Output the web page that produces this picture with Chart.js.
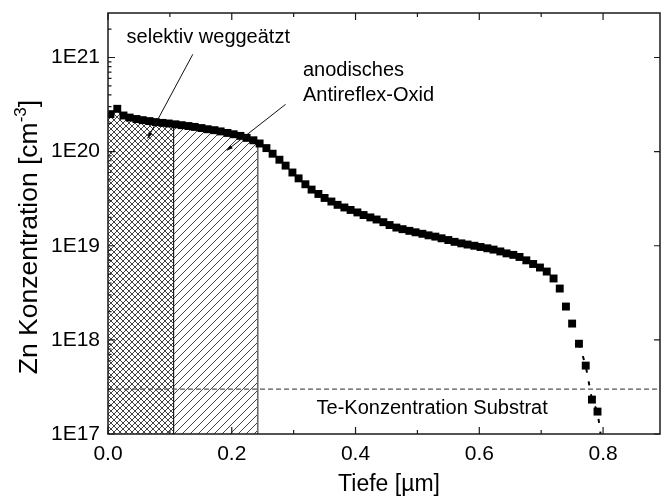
<!DOCTYPE html>
<html>
<head>
<meta charset="utf-8">
<script src="https://cdn.jsdelivr.net/npm/chart.js@4.4.1/dist/chart.umd.min.js"></script>
<style>
  html, body { margin: 0; padding: 0; background: #fff; overflow: hidden; }
  canvas { display: block; }
</style>
</head>
<body>
<canvas id="c" width="661" height="497"></canvas>
<script>
const FONT = "'Liberation Sans', Arial, Helvetica, sans-serif";

// SIMS depth profile: depth [µm] and Zn concentration [cm^-3]
const depth = [
  0.004, 0.015, 0.025, 0.035, 0.046, 0.056, 0.067, 0.077, 0.088, 0.098,
  0.109, 0.119, 0.130, 0.140, 0.151, 0.161, 0.172, 0.182, 0.193, 0.203,
  0.214, 0.224, 0.235, 0.245, 0.256, 0.266, 0.277, 0.287, 0.298, 0.308,
  0.319, 0.329, 0.340, 0.350, 0.361, 0.371, 0.382, 0.392, 0.403, 0.413,
  0.424, 0.434, 0.445, 0.455, 0.466, 0.476, 0.487, 0.497, 0.508, 0.518,
  0.529, 0.539, 0.550, 0.560, 0.571, 0.581, 0.592, 0.602, 0.613, 0.623,
  0.634, 0.644, 0.655, 0.665, 0.676, 0.687, 0.698, 0.709, 0.720, 0.730,
  0.740, 0.750, 0.761, 0.772, 0.782, 0.791
];
const znConc = [
  2.50e20, 2.85e20, 2.42e20, 2.30e20, 2.22e20, 2.16e20, 2.11e20, 2.06e20, 2.02e20, 1.99e20,
  1.95e20, 1.91e20, 1.87e20, 1.83e20, 1.78e20, 1.73e20, 1.69e20, 1.64e20, 1.58e20, 1.53e20,
  1.47e20, 1.40e20, 1.32e20, 1.22e20, 1.09e20, 9.5e19, 8.2e19, 7.1e19, 6.0e19, 5.2e19,
  4.5e19, 3.95e19, 3.55e19, 3.22e19, 2.95e19, 2.72e19, 2.55e19, 2.40e19, 2.26e19, 2.12e19,
  2.00e19, 1.90e19, 1.78e19, 1.66e19, 1.56e19, 1.50e19, 1.44e19, 1.39e19, 1.34e19, 1.29e19,
  1.25e19, 1.20e19, 1.15e19, 1.10e19, 1.06e19, 1.03e19, 1.00e19, 9.7e18, 9.4e18, 9.1e18,
  8.7e18, 8.3e18, 8.0e18, 7.6e18, 7.0e18, 6.4e18, 5.87e18, 5.32e18, 4.49e18, 3.51e18,
  2.26e18, 1.49e18, 9.1e17, 5.33e17, 2.32e17, 1.73e17
];

// dashed fit through the steep tail of the profile
const fitDepth = [0.761, 0.772, 0.782, 0.791, 0.796];
const fitConc  = [9.1e17, 5.33e17, 2.32e17, 1.73e17, 1.0e17];

// Te background level of the substrate
const teLevel = 3e17;

// layer boundaries: etched layer and anodic oxide
const layerBounds   = [0, 0.106, 0.242];
const layerEdgeConc = [2.50e20, 1.95e20, 1.22e20];

// axis ranges and tick labels
const X_MIN = 0, X_MAX = 0.892;
const Y_MIN = 1e17, Y_MAX = 2.97e21;
const xTickValues = [0, 0.2, 0.4, 0.6, 0.8];
const xTickLabels = ['0.0', '0.2', '0.4', '0.6', '0.8'];
const xMinorValues = [0.1, 0.3, 0.5, 0.7];
const yTickValues = [1e17, 1e18, 1e19, 1e20, 1e21];
const yTickLabels = ['1E17', '1E18', '1E19', '1E20', '1E21'];

const canvas = document.getElementById('c');
const ctx = canvas.getContext('2d');

function makePattern(size, draw) {
  const c = document.createElement('canvas');
  c.width = size; c.height = size;
  const g = c.getContext('2d');
  g.strokeStyle = '#2e2e2e';
  g.lineWidth = 0.9;
  g.beginPath();
  draw(g, size);
  g.stroke();
  return ctx.createPattern(c, 'repeat');
}
// "/" lines
function slash(g, s) {
  g.moveTo(-1, s + 1); g.lineTo(s + 1, -1);
  g.moveTo(-1, 1); g.lineTo(1, -1);
  g.moveTo(s - 1, s + 1); g.lineTo(s + 1, s - 1);
}
// "\" lines
function backslash(g, s) {
  g.moveTo(-1, -1); g.lineTo(s + 1, s + 1);
  g.moveTo(s - 1, -1); g.lineTo(s + 1, 1);
  g.moveTo(-1, s - 1); g.lineTo(1, s + 1);
}
const crossPattern = makePattern(6, (g, s) => { slash(g, s); backslash(g, s); });
const diagPattern  = makePattern(8, (g, s) => { slash(g, s); });

function layerPoints(i) {
  const pts = [{ x: layerBounds[i], y: layerEdgeConc[i] }];
  depth.forEach((d, k) => {
    if (d > layerBounds[i] && d < layerBounds[i + 1]) pts.push({ x: d, y: znConc[k] });
  });
  pts.push({ x: layerBounds[i + 1], y: layerEdgeConc[i + 1] });
  return pts;
}

const profile = depth.map((d, i) => ({ x: d, y: znConc[i] }));
const fitLine = fitDepth.map((d, i) => ({ x: d, y: fitConc[i] }));

const lineDefaults = { showLine: true, pointRadius: 0, fill: false, tension: 0 };

const decor = {
  id: 'decor',
  beforeDraw(chart) {
    const c = chart.ctx;
    c.save();
    c.fillStyle = '#fff';
    c.fillRect(0, 0, chart.width, chart.height);
    c.restore();
  },
  afterDraw(chart) {
    const { ctx: c, chartArea: a, scales: { x, y } } = chart;
    c.save();
    // frame
    c.strokeStyle = '#1a1a1a';
    c.lineWidth = 1.5;
    c.strokeRect(a.left, a.top, a.right - a.left, a.bottom - a.top);

    // inward ticks
    c.lineWidth = 1.2;
    c.beginPath();
    const xt = (v, len) => {
      const px = x.getPixelForValue(v);
      c.moveTo(px, a.bottom); c.lineTo(px, a.bottom - len);
      c.moveTo(px, a.top);    c.lineTo(px, a.top + len);
    };
    xTickValues.forEach(v => xt(v, 7));
    xMinorValues.forEach(v => xt(v, 4));
    yTickValues.forEach(v => {
      const py = y.getPixelForValue(v);
      c.moveTo(a.left, py);  c.lineTo(a.left + 7, py);
      c.moveTo(a.right, py); c.lineTo(a.right - 6, py);
    });
    for (let e = 17; e <= 21; e++) {
      for (let m = 2; m <= 9; m++) {
        const v = m * Math.pow(10, e);
        if (v > Y_MAX) break;
        const py = y.getPixelForValue(v);
        c.moveTo(a.left, py); c.lineTo(a.left + 3.5, py);
      }
    }
    c.stroke();

    // annotations
    c.fillStyle = '#000';
    c.font = `20px ${FONT}`;
    c.textBaseline = 'alphabetic';
    c.textAlign = 'left';
    const P = (vx, vy) => [x.getPixelForValue(vx), y.getPixelForValue(vy)];
    let p = P(0.030, 1.42e21); c.fillText('selektiv weggeätzt', p[0], p[1]);
    p = P(0.315, 6.3e20);      c.fillText('anodisches', p[0], p[1]);
    p = P(0.315, 3.44e20);     c.fillText('Antireflex-Oxid', p[0], p[1]);
    p = P(0.337, 1.63e17);     c.fillText('Te-Konzentration Substrat', p[0], p[1]);

    const arrow = (from, to) => {
      const [x1, y1] = P(from[0], from[1]);
      const [x2, y2] = P(to[0], to[1]);
      c.strokeStyle = '#111';
      c.lineWidth = 1;
      c.beginPath(); c.moveTo(x1, y1); c.lineTo(x2, y2); c.stroke();
      const ang = Math.atan2(y2 - y1, x2 - x1), L = 6, W = 2;
      c.beginPath();
      c.moveTo(x2, y2);
      c.lineTo(x2 - L * Math.cos(ang) + W * Math.sin(ang), y2 - L * Math.sin(ang) - W * Math.cos(ang));
      c.lineTo(x2 - L * Math.cos(ang) - W * Math.sin(ang), y2 - L * Math.sin(ang) + W * Math.cos(ang));
      c.closePath(); c.fill();
    };
    arrow([0.137, 1.08e21], [0.064, 1.38e20]);
    arrow([0.287, 3.18e20], [0.192, 1.03e20]);

    // axis titles
    c.font = `23px ${FONT}`;
    c.textAlign = 'center';
    c.fillText('Tiefe [µm]', 389, 491);

    c.translate(37, 237);
    c.rotate(-Math.PI / 2);
    const t1 = 'Zn Konzentration [cm', t2 = '-3', t3 = ']';
    c.font = `26.5px ${FONT}`;
    const w1 = c.measureText(t1).width, w3 = c.measureText(t3).width;
    c.font = `17px ${FONT}`;
    const w2 = c.measureText(t2).width;
    const sx = -(w1 + w2 + w3) / 2;
    c.textAlign = 'left';
    c.font = `26.5px ${FONT}`;
    c.fillText(t1, sx, 0);
    c.font = `17px ${FONT}`;
    c.fillText(t2, sx + w1, -11);
    c.font = `26.5px ${FONT}`;
    c.fillText(t3, sx + w1 + w2, 0);
    c.restore();
  }
};

// keep the plot frame exactly where the axis boxes put it
function zeroPadding(s) {
  s.paddingTop = 0; s.paddingBottom = 0; s.paddingLeft = 0; s.paddingRight = 0;
}

new Chart(ctx, {
  type: 'scatter',
  data: {
    datasets: [
      {
        data: profile, order: 0,
        pointStyle: 'rect', pointRadius: 5.6, pointBorderWidth: 0,
        backgroundColor: '#000', borderColor: '#000', showLine: false
      },
      {
        ...lineDefaults, data: fitLine, order: 1,
        borderColor: '#000', borderWidth: 2, borderDash: [4, 9]
      },
      {
        ...lineDefaults, data: [{ x: X_MIN, y: teLevel }, { x: X_MAX, y: teLevel }], order: 2,
        borderColor: '#555', borderWidth: 1.2, borderDash: [5, 3]
      },
      {
        ...lineDefaults, data: [{ x: layerBounds[1], y: Y_MIN }, { x: layerBounds[1], y: layerEdgeConc[1] }], order: 3,
        borderColor: '#1a1a1a', borderWidth: 1.2
      },
      {
        ...lineDefaults, data: [{ x: layerBounds[2], y: Y_MIN }, { x: layerBounds[2], y: layerEdgeConc[2] }], order: 3,
        borderColor: '#6a6a6a', borderWidth: 1.6
      },
      {
        ...lineDefaults, data: layerPoints(0), order: 5,
        borderWidth: 0, borderColor: 'rgba(0,0,0,0)', backgroundColor: crossPattern, fill: 'start'
      },
      {
        ...lineDefaults, data: layerPoints(1), order: 6,
        borderWidth: 0, borderColor: 'rgba(0,0,0,0)', backgroundColor: diagPattern, fill: 'start'
      }
    ]
  },
  options: {
    responsive: false,
    animation: false,
    devicePixelRatio: 1,
    layout: { autoPadding: false, padding: { top: 13, right: 1, left: 0, bottom: 0 } },
    plugins: { legend: { display: false }, tooltip: { enabled: false } },
    scales: {
      x: {
        type: 'linear', position: 'bottom', min: X_MIN, max: X_MAX,
        afterFit: s => { s.height = 63; zeroPadding(s); },
        afterBuildTicks: s => { s.ticks = xTickValues.map(v => ({ value: v })); },
        grid: { display: false, drawTicks: false },
        border: { display: false },
        ticks: {
          autoSkip: false, maxRotation: 0, padding: 8, color: '#000',
          font: { family: FONT, size: 21 },
          callback: (v, i) => xTickLabels[i]
        }
      },
      y: {
        type: 'logarithmic', position: 'left', min: Y_MIN, max: Y_MAX,
        afterFit: s => { s.width = 108; zeroPadding(s); },
        afterBuildTicks: s => { s.ticks = yTickValues.map(v => ({ value: v })); },
        grid: { display: false, drawTicks: false },
        border: { display: false },
        ticks: {
          autoSkip: false, padding: 8, color: '#000',
          font: { family: FONT, size: 21 },
          callback: (v, i) => yTickLabels[i]
        }
      }
    }
  },
  plugins: [decor]
});
</script>
</body>
</html>
